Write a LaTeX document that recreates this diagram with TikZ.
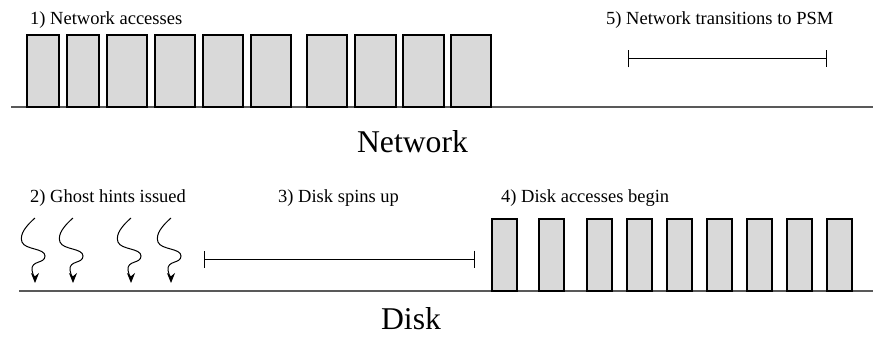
\documentclass[tikz,border=0pt]{standalone}
\usepackage{fontspec}
\setmainfont{Liberation Serif}
\usetikzlibrary{arrows.meta}
\begin{document}
\begin{tikzpicture}[x=1pt,y=-1pt,
  accbox/.style={draw=black,fill=black!15,line width=1.2pt},
  baseln/.style={draw=black!65,line width=1.6pt},
  interval/.style={draw=black,line width=1pt,{Bar[width=17pt,line width=1pt]}-{Bar[width=17pt,line width=1pt]}},
  lbl/.style={anchor=base west,inner sep=0pt,font=\fontsize{18.5}{20}\selectfont},
  big/.style={anchor=base,inner sep=0pt,font=\fontsize{31.7}{34}\selectfont},
  hint/.style={draw=black,line width=1pt,-{Stealth[length=10pt,width=8pt]}}]
\useasboundingbox (0,0) rectangle (873,337);
% network
\coordinate (nl) at (11,107); \coordinate (nr) at (873,107);
\draw[baseln] (nl) -- (nr);
\foreach \a/\b [count=\i] in {27/59,67/99,107/147,155/195,203/243,251/291,307/347,355/396,403/444,451/491}
  \draw[accbox] (\a,35) rectangle (\b,107);
\node[lbl] (t1) at (30,25) {1) Network accesses};
\node[lbl] (t5) at (606,25) {5) Network transitions to PSM};
\coordinate (p5a) at (628,59); \coordinate (p5b) at (827,59);
\draw[interval] (p5a) -- (p5b);
\node[big] (net) at (412.5,152) {Network};
% disk
\coordinate (dl) at (19,291); \coordinate (dr) at (873,291);
\draw[baseln] (dl) -- (dr);
\foreach \a in {492,539,587,627,667,707,747,787,827}
  \draw[accbox] (\a,219) rectangle (\a+25,291);
\node[lbl] (t2) at (30,202) {2) Ghost hints issued};
\node[lbl] (t3) at (278,202) {3) Disk spins up};
\node[lbl] (t4) at (501,202) {4) Disk accesses begin};
\coordinate (p3a) at (204,259); \coordinate (p3b) at (475,259);
\draw[interval] (p3a) -- (p3b);
\foreach \s in {0,38,96,136}
  \draw[hint,shift={(35+\s,218)}] (0,0) .. controls (-8,7) and (-16,16) .. (-13,24)
     .. controls (-10,32) and (10,30) .. (10,38)
     .. controls (10,46) and (-4,42) .. (-3,52)
     .. controls (-2,58) and (0,61) .. (0,65);
\node[big] (disk) at (411,329) {Disk};
\end{tikzpicture}
\end{document}
